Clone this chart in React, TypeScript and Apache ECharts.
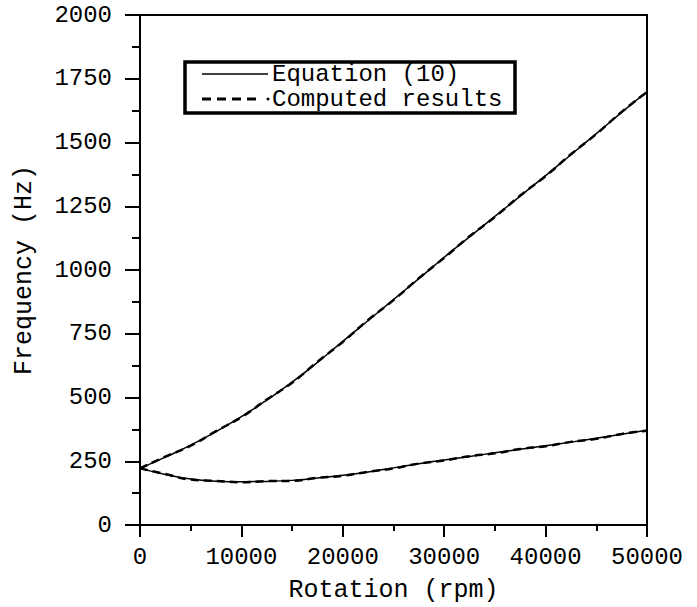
import React, { useEffect, useRef } from "react";
import * as echarts from "echarts";

const rpm = [0, 2500, 5000, 7500, 10000, 12500, 15000, 17500, 20000, 22500, 25000, 27500, 30000, 32500, 35000, 37500, 40000, 42500, 45000, 47500, 50000];
const eqUpper = [222, 266, 313, 366, 425, 490, 560, 638, 720, 802, 884, 966, 1050, 1130, 1210, 1290, 1370, 1452, 1535, 1618, 1700];
const eqLower = [222, 198, 180, 172, 170, 171, 175, 184, 195, 208, 224, 240, 255, 269, 283, 297, 311, 325, 340, 356, 372];
const cpUpper = [222, 268, 311, 368, 423, 492, 558, 640, 718, 804, 882, 968, 1048, 1132, 1208, 1292, 1368, 1454, 1533, 1620, 1698];
const cpLower = [222, 200, 178, 173, 168, 172, 173, 185, 193, 209, 222, 241, 253, 270, 281, 298, 309, 326, 338, 357, 370];
const xTicks = [0, 10000, 20000, 30000, 40000, 50000];
const yTicks = [0, 250, 500, 750, 1000, 1250, 1500, 1750, 2000];
const legendNames = ["Equation (10)", "Computed results"];

const FONT = "'Liberation Mono', 'DejaVu Sans Mono', monospace";

const pairs = (ys: number[]) => rpm.map((x, i) => [x, ys[i]]);

export default function App() {
  const ref = useRef<HTMLDivElement>(null);
  useEffect(() => {
    if (!ref.current) return;
    const chart = echarts.init(ref.current, undefined, { renderer: "svg" });
    const solid = { color: "#000", width: 1.5, type: "solid" as const };
    const dashed = { color: "#000", width: 2.5, type: [8, 5] as any };
    chart.setOption({
      animation: false,
      backgroundColor: "#fff",
      grid: {
        left: 140, right: 50, top: 15, bottom: 82,
        outerBoundsMode: "none", containLabel: false,
        show: true, borderColor: "#000", borderWidth: 2, backgroundColor: "transparent",
      },
      xAxis: {
        type: "value",
        min: xTicks[0],
        max: xTicks[xTicks.length - 1],
        interval: xTicks[1] - xTicks[0],
        name: "Rotation (rpm)",
        nameLocation: "middle",
        nameGap: 65,
        nameTextStyle: { fontFamily: FONT, fontSize: 25, color: "#000", verticalAlign: "middle" },
        axisLine: { lineStyle: { color: "#000", width: 2 } },
        axisTick: { show: true, inside: false, length: 12, lineStyle: { color: "#000", width: 2 } },
        minorTick: { show: true, splitNumber: 2, length: 6, lineStyle: { color: "#000", width: 2 } },
        splitLine: { show: false },
        axisLabel: { fontFamily: FONT, fontSize: 24, color: "#000", margin: 20, formatter: (v: number) => String(v) },
      },
      yAxis: {
        type: "value",
        min: yTicks[0],
        max: yTicks[yTicks.length - 1],
        interval: yTicks[1] - yTicks[0],
        name: "Frequency (Hz)",
        nameLocation: "middle",
        nameGap: 116,
        nameTextStyle: { fontFamily: FONT, fontSize: 25, color: "#000", verticalAlign: "middle" },
        axisLine: { show: true, lineStyle: { color: "#000", width: 2 } },
        axisTick: { show: true, inside: false, length: 15, lineStyle: { color: "#000", width: 2 } },
        minorTick: { show: true, splitNumber: 2, length: 8, lineStyle: { color: "#000", width: 2 } },
        splitLine: { show: false },
        axisLabel: { fontFamily: FONT, fontSize: 24, color: "#000", margin: 28, formatter: (v: number) => String(v) },
      },
      series: [
        { name: legendNames[0], type: "line", data: pairs(eqUpper), showSymbol: false, smooth: true, lineStyle: solid },
        { name: legendNames[0], type: "line", data: pairs(eqLower), showSymbol: false, smooth: true, lineStyle: solid },
        { name: legendNames[1], type: "line", data: pairs(cpUpper), showSymbol: false, smooth: true, lineStyle: dashed },
        { name: legendNames[1], type: "line", data: pairs(cpLower), showSymbol: false, smooth: true, lineStyle: dashed },
      ],
      graphic: [
        { type: "rect", shape: { x: 185, y: 62, width: 330, height: 51 }, style: { fill: "#fff", stroke: "#000", lineWidth: 3.5 }, z: 100 },
        { type: "line", shape: { x1: 202, y1: 74, x2: 268, y2: 74 }, style: { stroke: "#000", lineWidth: 1.5 }, z: 101 },
        { type: "line", shape: { x1: 202, y1: 99, x2: 262, y2: 99 }, style: { stroke: "#000", lineWidth: 3, lineDash: [9, 6] }, z: 101 },
        { type: "circle", shape: { cx: 268, cy: 99, r: 1.5 }, style: { fill: "#000" }, z: 101 },
        { type: "text", x: 272, y: 74, style: { text: legendNames[0], font: `24px ${FONT}`, fill: "#000", verticalAlign: "middle", align: "left" }, z: 101 },
        { type: "text", x: 272, y: 99, style: { text: legendNames[1], font: `24px ${FONT}`, fill: "#000", verticalAlign: "middle", align: "left" }, z: 101 },
      ],
    });
    return () => chart.dispose();
  }, []);
  return <div ref={ref} style={{ position: "fixed", left: 0, top: 0, width: 697, height: 607 }} />;
}
